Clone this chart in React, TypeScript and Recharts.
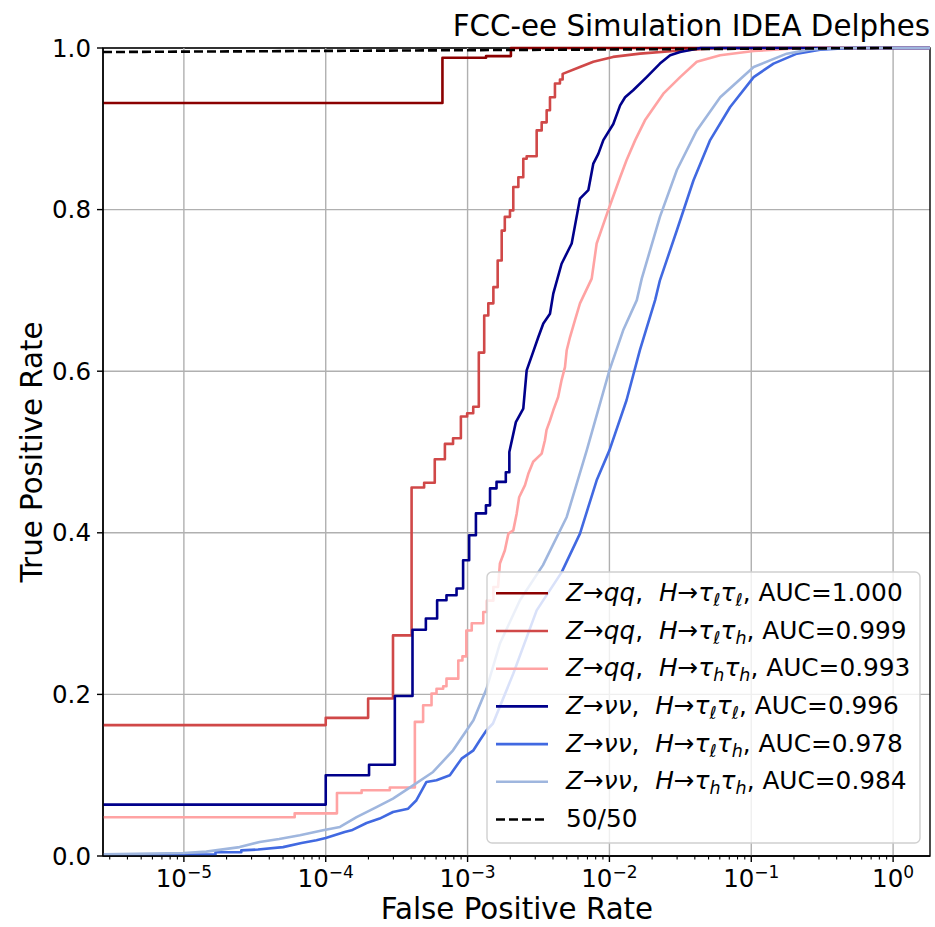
import React from "react";
import { LineChart, Line, XAxis, YAxis, CartesianGrid, ReferenceLine, ReferenceArea } from "recharts";

type Pt = [number, number];

// x range of the log axis (false positive rate)
const X_LEFT = 2.69e-6;
const X_RIGHT = 1.82;

const majorTicks = [1e-5, 1e-4, 1e-3, 1e-2, 1e-1, 1];
const majorExps = [-5, -4, -3, -2, -1, 0];
const yTicks = [0, 0.2, 0.4, 0.6, 0.8, 1.0];

// ROC curves: [fpr, tpr]
const rocQqLL: Pt[] = [
  [2.69e-6, 0.932], [6.65e-4, 0.932], [6.65e-4, 0.988], [1.35e-3, 0.988], [1.35e-3, 0.99],
  [2.02e-3, 0.99], [2.02e-3, 1.0], [1.82, 1.0],
];

const rocQqLH: Pt[] = [
  [2.69e-6, 0.162], [1.0e-4, 0.162], [1.0e-4, 0.171], [1.99e-4, 0.171], [1.99e-4, 0.195],
  [2.98e-4, 0.195], [2.98e-4, 0.273], [4.03e-4, 0.273], [4.03e-4, 0.456], [4.94e-4, 0.456],
  [4.94e-4, 0.462], [5.87e-4, 0.462], [5.87e-4, 0.491], [6.92e-4, 0.491], [6.92e-4, 0.51],
  [7.9e-4, 0.51], [7.9e-4, 0.517], [8.97e-4, 0.517], [8.97e-4, 0.544], [9.93e-4, 0.544],
  [9.93e-4, 0.548], [1.096e-3, 0.548], [1.096e-3, 0.556], [1.2e-3, 0.556], [1.2e-3, 0.623],
  [1.31e-3, 0.623], [1.31e-3, 0.669], [1.4e-3, 0.669], [1.4e-3, 0.684], [1.52e-3, 0.684],
  [1.52e-3, 0.704], [1.63e-3, 0.704], [1.63e-3, 0.737], [1.74e-3, 0.737], [1.74e-3, 0.774],
  [1.83e-3, 0.774], [1.83e-3, 0.791], [1.99e-3, 0.791], [1.99e-3, 0.799], [2.1e-3, 0.799],
  [2.1e-3, 0.828], [2.28e-3, 0.828], [2.28e-3, 0.84], [2.47e-3, 0.84], [2.47e-3, 0.863],
  [2.61e-3, 0.863], [2.61e-3, 0.866], [3.07e-3, 0.866], [3.07e-3, 0.898], [3.33e-3, 0.898],
  [3.33e-3, 0.908], [3.61e-3, 0.908], [3.61e-3, 0.923], [3.81e-3, 0.923], [3.81e-3, 0.939],
  [4.13e-3, 0.939], [4.13e-3, 0.956], [4.48e-3, 0.956], [4.48e-3, 0.961], [4.68e-3, 0.961],
  [4.68e-3, 0.968], [6.2e-3, 0.9765], [7.7e-3, 0.983], [1.06e-2, 0.989], [1.64e-2, 0.993],
  [3.15e-2, 0.997], [6e-2, 1.0], [1.82, 1.0],
];

const rocQqHH: Pt[] = [
  [2.69e-6, 0.048], [6.04e-5, 0.048], [6.04e-5, 0.0528], [1.2e-4, 0.0528], [1.2e-4, 0.078],
  [1.79e-4, 0.078], [1.79e-4, 0.0813], [2.83e-4, 0.0813], [2.83e-4, 0.0847], [4.25e-4, 0.0847],
  [4.25e-4, 0.166], [4.86e-4, 0.166], [4.86e-4, 0.1865], [5.57e-4, 0.1865], [5.57e-4, 0.201],
  [6.04e-4, 0.201], [6.04e-4, 0.207], [6.73e-4, 0.207], [6.73e-4, 0.21], [7.1e-4, 0.21],
  [7.1e-4, 0.2195], [8.6e-4, 0.2195], [8.6e-4, 0.242], [9.2e-4, 0.242], [9.2e-4, 0.247],
  [9.8e-4, 0.247], [9.8e-4, 0.279], [1.07e-3, 0.279], [1.07e-3, 0.288], [1.29e-3, 0.288],
  [1.29e-3, 0.302], [1.37e-3, 0.302], [1.37e-3, 0.316], [1.52e-3, 0.316], [1.52e-3, 0.333],
  [1.64e-3, 0.333], [1.69e-3, 0.362], [1.83e-3, 0.378], [1.94e-3, 0.399], [2.1e-3, 0.403],
  [2.22e-3, 0.424], [2.31e-3, 0.444], [2.54e-3, 0.459], [2.68e-3, 0.473], [2.9e-3, 0.488],
  [3.33e-3, 0.498], [3.51e-3, 0.5145], [3.6e-3, 0.527], [3.81e-3, 0.539], [4.02e-3, 0.5516],
  [4.35e-3, 0.568], [4.6e-3, 0.589], [4.86e-3, 0.605], [5.0e-3, 0.626], [5.27e-3, 0.642],
  [5.71e-3, 0.663], [6.2e-3, 0.684], [7.5e-3, 0.7146], [8.13e-3, 0.758], [9.8e-3, 0.799],
  [1.04e-2, 0.8115], [1.19e-2, 0.84], [1.32e-2, 0.861], [1.52e-2, 0.886], [1.78e-2, 0.9105],
  [2.4e-2, 0.9435], [3.15e-2, 0.964], [4.13e-2, 0.983], [6.04e-2, 0.991], [0.104, 0.9963],
  [0.233, 1.0], [1.82, 1.0],
];

const rocVvLL: Pt[] = [
  [2.69e-6, 0.0636], [1.0e-4, 0.0636], [1.0e-4, 0.1], [2.02e-4, 0.1], [2.02e-4, 0.113],
  [3.07e-4, 0.113], [3.07e-4, 0.198], [4.09e-4, 0.198], [4.09e-4, 0.28], [5.08e-4, 0.28],
  [5.08e-4, 0.294], [6.1e-4, 0.294], [6.1e-4, 0.3165], [7.1e-4, 0.3165], [7.1e-4, 0.3227],
  [8.36e-4, 0.3227], [8.36e-4, 0.331], [9.3e-4, 0.331], [9.3e-4, 0.366], [1.026e-3, 0.366],
  [1.026e-3, 0.397], [1.145e-3, 0.397], [1.145e-3, 0.424], [1.347e-3, 0.424], [1.347e-3, 0.434],
  [1.44e-3, 0.434], [1.44e-3, 0.455], [1.6e-3, 0.455], [1.6e-3, 0.463], [1.86e-3, 0.463],
  [1.86e-3, 0.475], [1.97e-3, 0.475], [1.97e-3, 0.5], [2.19e-3, 0.537], [2.47e-3, 0.5537],
  [2.61e-3, 0.601], [2.9e-3, 0.624], [3.15e-3, 0.642], [3.42e-3, 0.659], [3.81e-3, 0.671],
  [4.02e-3, 0.696], [4.6e-3, 0.733], [5.42e-3, 0.758], [6.2e-3, 0.8136], [7.1e-3, 0.824],
  [7.7e-3, 0.857], [8.35e-3, 0.869], [9.06e-3, 0.886], [1.065e-2, 0.906], [1.19e-2, 0.929],
  [1.29e-2, 0.939], [1.47e-2, 0.9477], [1.83e-2, 0.964], [2.27e-2, 0.9807], [2.68e-2, 0.991],
  [3.15e-2, 0.995], [4.4e-2, 1.0], [1.82, 1.0],
];

const rocVvLH: Pt[] = [
  [2.69e-6, 0.0017], [1.67e-5, 0.0017], [1.67e-5, 0.0046], [2.54e-5, 0.0046], [2.54e-5, 0.007],
  [3.33e-5, 0.008], [5.0e-5, 0.011], [6.75e-5, 0.016], [8.6e-5, 0.0194], [1.0e-4, 0.0223],
  [1.36e-4, 0.0297], [1.52e-4, 0.0318], [1.94e-4, 0.0408], [2.4e-4, 0.0463], [2.98e-4, 0.0545],
  [3.81e-4, 0.0586], [4.36e-4, 0.069], [5.13e-4, 0.0916], [6.04e-4, 0.0937], [7.5e-4, 0.0999],
  [9.07e-4, 0.1205], [1.1e-3, 0.1308], [1.22e-3, 0.1432], [1.36e-3, 0.1556], [1.51e-3, 0.164],
  [2.1e-3, 0.2257], [3.07e-3, 0.304], [4.6e-3, 0.351], [6.2e-3, 0.399], [8.13e-3, 0.465],
  [1.0e-2, 0.502], [1.32e-2, 0.564], [1.64e-2, 0.626], [2.1e-2, 0.688], [2.27e-2, 0.7125],
  [2.99e-2, 0.7744], [3.91e-2, 0.836], [5.13e-2, 0.886], [7.1e-2, 0.927], [0.104, 0.964],
  [0.1435, 0.9807], [0.21, 0.993], [0.306, 0.998], [0.5, 1.0], [1.82, 1.0],
];

const rocVvHH: Pt[] = [
  [2.69e-6, 0.002], [1.0e-5, 0.0037], [1.44e-5, 0.0054], [2.47e-5, 0.011], [3.42e-5, 0.0173],
  [4.7e-5, 0.021], [6.57e-5, 0.0256], [9.57e-5, 0.0318], [1.26e-4, 0.036], [1.65e-4, 0.048],
  [2.28e-4, 0.0606], [2.98e-4, 0.071], [4.13e-4, 0.0875], [5.71e-4, 0.104], [7.9e-4, 0.1308],
  [1.1e-3, 0.168], [1.36e-3, 0.207], [1.69e-3, 0.263], [2.34e-3, 0.3165], [3.4e-3, 0.36],
  [5.0e-3, 0.4196], [6.92e-3, 0.502], [1.0e-2, 0.601], [1.25e-2, 0.6506], [1.56e-2, 0.688],
  [1.69e-2, 0.7146], [2.27e-2, 0.791], [2.99e-2, 0.849], [4.13e-2, 0.898], [6.04e-2, 0.939],
  [0.104, 0.9765], [0.178, 0.993], [0.256, 0.998], [0.4, 1.0], [1.82, 1.0],
];

// the 50/50 diagonal, seen through the log axis
const diag5050: Pt[] = [[2.69e-6, 0.995], [1, 1.0]];

const zDecays = ["qq", "qq", "qq", "νν", "νν", "νν"];
const tauA = ["ℓ", "ℓ", "h", "ℓ", "ℓ", "h"];
const tauB = ["ℓ", "h", "h", "ℓ", "h", "h"];
const aucs = ["1.000", "0.999", "0.993", "0.996", "0.978", "0.984"];

const curves = [rocQqLL, rocQqLH, rocQqHH, rocVvLL, rocVvLH, rocVvHH];
const colors = ["#8b0000", "#d04848", "#ffa3a3", "#00008b", "#4169e1", "#9fb6de"];

const toRows = (pts: Pt[]) => pts.map(([x, y]) => ({ x, y }));

const minorTicks: number[] = [];
[1e-6, ...majorTicks].forEach((d) =>
  [2, 3, 4, 5, 6, 7, 8, 9].forEach((m) => {
    const v = d * m;
    if (v >= X_LEFT && v <= X_RIGHT) minorTicks.push(v);
  })
);
const xTicks = [...majorTicks, ...minorTicks].sort((a, b) => a - b);

const FONT = '"DejaVu Sans", sans-serif';
const LW = 2.6;
const FS = 24.5;

function XTick(props: any) {
  const { x, y, payload } = props;
  const v = payload.value;
  const idx = majorTicks.findIndex((t) => Math.abs(t - v) / t < 1e-6);
  const major = idx >= 0;
  const e = major ? majorExps[idx] : 0;
  return (
    <g>
      <line x1={x} x2={x} y1={y} y2={y + (major ? 6 : 3.5)} stroke="#000" strokeWidth={major ? 1.4 : 1.1} />
      {major && (
        <text x={x} y={y + 31} textAnchor="middle" fontSize={FS} fill="#000" fontFamily={FONT}>
          <tspan>10</tspan>
          <tspan dy={-9} fontSize={17}>{e === 0 ? "0" : "\u2212" + Math.abs(e)}</tspan>
        </text>
      )}
    </g>
  );
}

function LegendLabel({ i, y }: { i: number; y: number }) {
  return (
    <text x={566} y={y} fontSize={24.8} fill="#000" fontFamily={FONT}>
      <tspan fontStyle="italic">Z</tspan>
      <tspan>→</tspan>
      <tspan fontStyle="italic">{zDecays[i]}</tspan>
      <tspan>{",\u00a0\u00a0"}</tspan>
      <tspan fontStyle="italic">H</tspan>
      <tspan>→</tspan>
      <tspan fontStyle="italic">τ</tspan>
      <tspan fontStyle="italic" fontSize={17.5} dy={5}>{tauA[i]}</tspan>
      <tspan fontStyle="italic" dy={-5}>τ</tspan>
      <tspan fontStyle="italic" fontSize={17.5} dy={5}>{tauB[i]}</tspan>
      <tspan dy={-5}>{",\u00a0AUC=" + aucs[i]}</tspan>
    </text>
  );
}

export default function App() {
  const legY0 = 593.3;
  const legDy = 37.7;
  return (
    <div style={{ position: "absolute", left: 0, top: 0, width: 935, height: 927, background: "#fff", fontFamily: FONT }}>
      <LineChart width={935} height={927} margin={{ top: 48, right: 5, bottom: 0, left: 0 }}>
        <CartesianGrid vertical={false} stroke="#b0b0b0" strokeWidth={1.4} />
        {majorTicks.map((t) => (
          <ReferenceLine key={t} x={t} stroke="#b0b0b0" strokeWidth={1.4} />
        ))}
        <XAxis
          dataKey="x"
          type="number"
          scale="log"
          domain={[X_LEFT, X_RIGHT]}
          allowDataOverflow
          ticks={xTicks}
          interval={0}
          tick={(p: any) => <XTick {...p} />}
          tickLine={false}
          tickSize={0}
          tickMargin={0}
          height={71}
          stroke="#000"
          axisLine={{ stroke: "#000", strokeWidth: 1.4 }}
        />
        <YAxis
          type="number"
          domain={[0, 1]}
          ticks={yTicks}
          interval={0}
          width={103}
          tickSize={6}
          tickMargin={6}
          stroke="#000"
          axisLine={{ stroke: "#000", strokeWidth: 1.4 }}
          tickLine={{ stroke: "#000", strokeWidth: 1.4 }}
          tick={{ fill: "#000", fontSize: FS, fontFamily: FONT }}
          tickFormatter={(v: number) => v.toFixed(1)}
        />
        {curves.map((c, i) => (
          <Line
            key={i}
            data={toRows(c)}
            dataKey="y"
            type="linear"
            stroke={colors[i]}
            strokeWidth={LW}
            strokeLinejoin="round"
            dot={false}
            activeDot={false}
            isAnimationActive={false}
          />
        ))}
        <Line
          data={toRows(diag5050)}
          dataKey="y"
          type="linear"
          stroke="#000"
          strokeWidth={LW}
          strokeDasharray="9 4"
          dot={false}
          activeDot={false}
          isAnimationActive={false}
        />
        {/* axes frame (top and right spines) */}
        <ReferenceArea
          x1={X_LEFT}
          x2={X_RIGHT}
          y1={0}
          y2={1}
          ifOverflow="visible"
          fill="none"
          fillOpacity={0}
          stroke="#000"
          strokeWidth={1.4}
        />
      </LineChart>

      <svg width={935} height={927} style={{ position: "absolute", left: 0, top: 0, pointerEvents: "none" }}>
        <text x={930} y={36} textAnchor="end" fontSize={29.3} fill="#000" fontFamily={FONT}>
          FCC-ee Simulation IDEA Delphes
        </text>
        <text x={517} y={919} textAnchor="middle" fontSize={29.3} fill="#000" fontFamily={FONT}>
          False Positive Rate
        </text>
        <text transform="translate(42,452) rotate(-90)" textAnchor="middle" fontSize={29.3} fill="#000" fontFamily={FONT}>
          True Positive Rate
        </text>

        <rect x={487} y={572} width={433} height={271} rx={5} fill="#fff" fillOpacity={0.8} stroke="#d0d0d0" strokeWidth={1.4} />
        {colors.map((c, i) => {
          const y = legY0 + i * legDy;
          return (
            <g key={i}>
              <line x1={496} x2={548} y1={y} y2={y} stroke={c} strokeWidth={LW} />
              <LegendLabel i={i} y={y + 7.5} />
            </g>
          );
        })}
        <line x1={496} x2={548} y1={legY0 + 6 * legDy} y2={legY0 + 6 * legDy} stroke="#000" strokeWidth={LW} strokeDasharray="9 4" />
        <text x={566} y={legY0 + 6 * legDy + 7.5} fontSize={24.8} fill="#000" fontFamily={FONT}>
          50/50
        </text>
      </svg>
    </div>
  );
}
